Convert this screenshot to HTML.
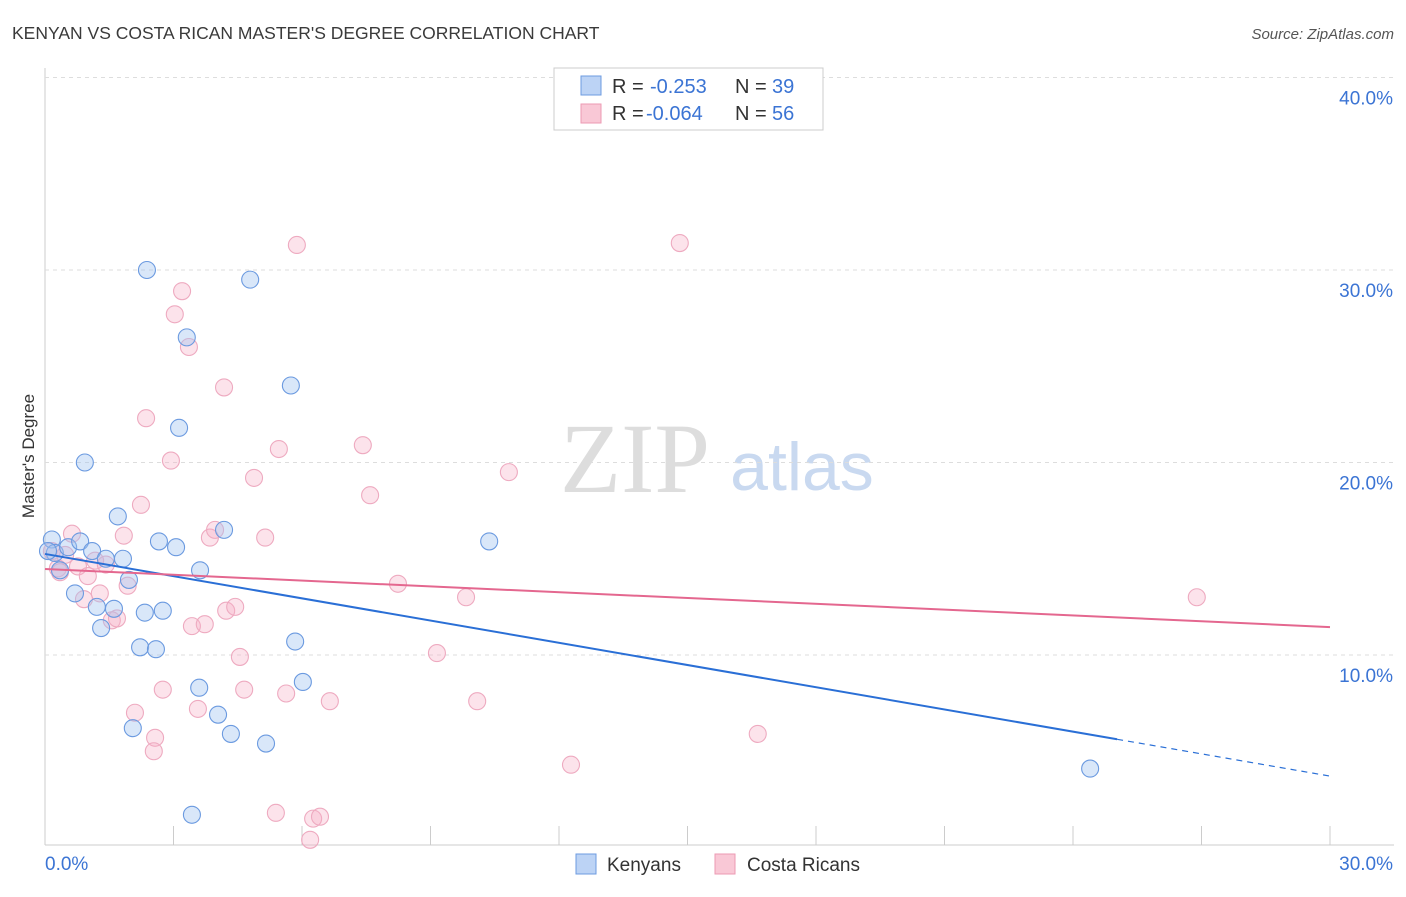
<!DOCTYPE html>
<html><head><meta charset="utf-8"><style>
body{margin:0;background:#fff;font-family:"Liberation Sans",sans-serif;}
</style></head><body>
<svg id="c" width="1406" height="892" xmlns="http://www.w3.org/2000/svg" style="font-family:'Liberation Sans',sans-serif">
<text x="12" y="39" font-size="17.5" fill="#3a3a3a">KENYAN VS COSTA RICAN MASTER'S DEGREE CORRELATION CHART</text>
<text x="1394" y="39" font-size="15" fill="#555" font-style="italic" text-anchor="end">Source: ZipAtlas.com</text>
<text x="34" y="456" font-size="17" fill="#333" transform="rotate(-90 34 456)" text-anchor="middle">Master's Degree</text>
<text x="635" y="492" font-size="100" fill="#ddd" font-family="Liberation Serif" text-anchor="middle">ZIP</text>
<text x="802" y="490" font-size="68" fill="#c9d9f0" text-anchor="middle">atlas</text>
<g id="grid"></g><g id="pts"></g><g id="lines"></g>
<g>
<rect x="554" y="68" width="269" height="62" fill="#fff" stroke="#ccc"/>
<rect x="581" y="76" width="20" height="19" fill="#bcd3f5" stroke="#6d9be0"/>
<rect x="581" y="104" width="20" height="19" fill="#f9c8d6" stroke="#ec9ab3"/>
<text x="612" y="93" font-size="20" fill="#333">R =</text>
<text x="650" y="93" font-size="20" fill="#3b74d4">-0.253</text>
<text x="735" y="93" font-size="20" fill="#333">N =</text>
<text x="772" y="93" font-size="20" fill="#3b74d4">39</text>
<text x="612" y="120" font-size="20" fill="#333">R =</text>
<text x="646" y="120" font-size="20" fill="#3b74d4">-0.064</text>
<text x="735" y="120" font-size="20" fill="#333">N =</text>
<text x="772" y="120" font-size="20" fill="#3b74d4">56</text>
</g>
<g>
<rect x="576" y="854" width="20" height="20" fill="#bcd3f5" stroke="#6d9be0"/>
<text x="607" y="871" font-size="19" fill="#333">Kenyans</text>
<rect x="715" y="854" width="20" height="20" fill="#f9c8d6" stroke="#ec9ab3"/>
<text x="747" y="871" font-size="19" fill="#333">Costa Ricans</text>
</g>
</svg>
<script>
const yTicks=[10,20,30,40];
const yTickLabels=["10.0%","20.0%","30.0%","40.0%"];
const xTickLabels=["0.0%","30.0%"];
const kenX=[0.16,0.23,0.35,0.54,0.7,0.82,0.93,1.1,1.21,1.31,1.42,1.61,1.7,1.82,1.96,2.22,2.33,2.38,2.59,2.66,2.75,3.06,3.13,3.31,3.6,3.62,4.04,4.18,4.34,4.79,5.16,5.74,5.84,6.02,10.37,24.4,3.43,2.05,0.07];
const kenY=[16.0,15.3,14.4,15.6,13.2,15.9,20.0,15.4,12.5,11.4,15.0,12.4,17.2,15.0,13.9,10.4,12.2,30.0,10.3,15.9,12.3,15.6,21.8,26.5,8.3,14.4,6.9,16.5,5.9,29.5,5.4,24.0,10.7,8.6,15.9,4.1,1.7,6.2,15.4];
const crX=[0.16,0.3,0.35,0.47,0.63,0.77,0.91,1.0,1.17,1.28,1.42,1.56,1.68,1.84,1.93,2.1,2.24,2.36,2.57,2.54,2.75,2.94,3.03,3.2,3.36,3.43,3.57,3.73,3.85,3.97,4.18,4.23,4.44,4.55,4.65,4.88,5.14,5.39,5.46,5.63,5.88,6.19,6.26,6.42,6.65,7.42,7.59,8.24,9.15,9.83,10.09,10.83,12.28,14.82,16.64,26.89];
const crY=[15.4,14.5,14.3,15.2,16.3,14.6,12.9,14.1,14.9,13.2,14.7,11.8,11.9,16.2,13.6,7.0,17.8,22.3,5.7,5.0,8.2,20.1,27.7,28.9,26.0,11.5,7.2,11.6,16.1,16.5,23.9,12.3,12.5,9.9,8.2,19.2,16.1,1.8,20.7,8.0,31.3,0.4,1.5,1.6,7.6,20.9,18.3,13.7,10.1,13.0,7.6,19.5,4.3,31.4,5.9,13.0];
const kenTrend=[15.25,3.71], kenSolidEnd=25.03;
const crTrend=[14.47,11.45];
const X0=45,X1=1330,Y0=847.5,YS=19.25;
const sx=v=>X0+(v/30)*(X1-X0), sy=v=>Y0-v*YS;
const NS="http://www.w3.org/2000/svg";
function mk(t,a,p){const e=document.createElementNS(NS,t);for(const k in a)e.setAttribute(k,a[k]);p.appendChild(e);return e;}
const g=document.getElementById('grid');
mk('line',{x1:45,y1:68,x2:45,y2:845,stroke:'#ccc'},g);
mk('line',{x1:45,y1:845,x2:1394,y2:845,stroke:'#ccc'},g);
for(let i=0;i<=10;i++){const x=X0+i*(X1-X0)/10;mk('line',{x1:x,y1:826,x2:x,y2:845,stroke:'#ccc'},g);}
yTicks.forEach((v,i)=>{
 const l=mk('line',{x1:45,y1:sy(v),x2:1394,y2:sy(v),stroke:'#ddd','stroke-dasharray':'4,4'},g);
 
 
 const t=mk('text',{x:1393,y:sy(v)+27,'font-size':19,fill:'#3b74d4','text-anchor':'end'},g);t.textContent=yTickLabels[i];
 
 
});
let t0=mk('text',{x:45,y:870,'font-size':19,fill:'#3b74d4'},g);t0.textContent=xTickLabels[0];


let t1=mk('text',{x:1393,y:870,'font-size':19,fill:'#3b74d4','text-anchor':'end'},g);t1.textContent=xTickLabels[1];


const p=document.getElementById('pts');
crX.forEach((x,i)=>{const c=mk('circle',{cx:sx(x),cy:sy(crY[i]),r:8.5,fill:'rgba(246,175,198,0.35)',stroke:'#eeaac0','stroke-width':1.1},p);
 
 });
kenX.forEach((x,i)=>{const c=mk('circle',{cx:sx(x),cy:sy(kenY[i]),r:8.5,fill:'rgba(160,195,240,0.4)',stroke:'#6b9ae0','stroke-width':1.1},p);
 
 });
const L=document.getElementById('lines');
const ky=x=>kenTrend[0]+(kenTrend[1]-kenTrend[0])*x/30;
let a=mk('line',{x1:sx(0),y1:sy(ky(0)),x2:sx(kenSolidEnd),y2:sy(ky(kenSolidEnd)),stroke:'#2a6fd6','stroke-width':2},L);


let b=mk('line',{x1:sx(kenSolidEnd),y1:sy(ky(kenSolidEnd)),x2:sx(30),y2:sy(ky(30)),stroke:'#2a6fd6','stroke-width':1.2,'stroke-dasharray':'6,5'},L);


let c=mk('line',{x1:sx(0),y1:sy(crTrend[0]),x2:sx(30),y2:sy(crTrend[1]),stroke:'#e4678f','stroke-width':2},L);


</script>
</body></html>
